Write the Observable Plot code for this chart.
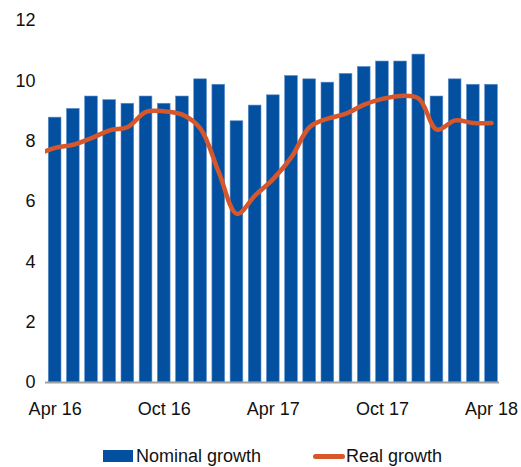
<!DOCTYPE html>
<html>
<head>
<meta charset="utf-8">
<script src="https://cdn.jsdelivr.net/npm/d3@7"></script>
<script src="https://cdn.jsdelivr.net/npm/@observablehq/plot@0.6"></script>
<style>
  html, body { margin: 0; padding: 0; background: #fff; }
  #wrap { position: relative; width: 521px; height: 467px; font-family: "Liberation Sans", Arial, sans-serif; color: #111; }
  #legend { position: absolute; left: 0; top: 430px; width: 521px; height: 37px; font-size: 18px; }
  .sw { position: absolute; }
  .lt { position: absolute; line-height: 20px; white-space: nowrap; }
</style>
</head>
<body>
<div id="wrap">
  <div id="chart"></div>
  <div id="legend">
    <div class="sw" style="left:103px; top:20px; width:30px; height:12px; background:#0450a0;"></div>
    <div class="lt" style="left:136px; top:16px;">Nominal growth</div>
    <div class="sw" style="left:313px; top:23.5px; width:32px; height:5px; border-radius:2.5px; background:#d5572b;"></div>
    <div class="lt" style="left:346px; top:16px;">Real growth</div>
  </div>
</div>
<script>
const months = ["Apr 16","May 16","Jun 16","Jul 16","Aug 16","Sep 16","Oct 16","Nov 16","Dec 16",
  "Jan 17","Feb 17","Mar 17","Apr 17","May 17","Jun 17","Jul 17","Aug 17","Sep 17","Oct 17",
  "Nov 17","Dec 17","Jan 18","Feb 18","Mar 18","Apr 18"];
const nominalGrowth = [8.78, 9.07, 9.48, 9.36, 9.24, 9.48, 9.24, 9.48, 10.05, 9.87, 8.66, 9.18,
  9.52, 10.16, 10.05, 9.94, 10.23, 10.46, 10.64, 10.64, 10.87, 9.48, 10.05, 9.87, 9.87];
// real growth, Mar 16 (partly visible at left edge) through Apr 18
const realMonths = ["Mar 16"].concat(months);
const realGrowth = [7.55, 7.78, 7.88, 8.10, 8.36, 8.47, 8.97, 8.99, 8.88, 8.41, 6.97, 5.59, 6.20,
  6.75, 7.47, 8.47, 8.75, 8.91, 9.21, 9.40, 9.50, 9.41, 8.38, 8.69, 8.60, 8.60];
const xTickLabels = ["Apr 16", "Oct 16", "Apr 17", "Oct 17", "Apr 18"];
const yTicks = [0, 2, 4, 6, 8, 10, 12];

const nomData = months.map((m, i) => ({m, i, v: nominalGrowth[i]}));
const realData = realMonths.map((m, k) => ({m, i: k - 1, v: realGrowth[k]}));
const xTicks = xTickLabels.map(l => months.indexOf(l));

const chart = Plot.plot({
  width: 521,
  height: 430,
  marginLeft: 45,
  marginRight: 22,
  marginTop: 20,
  marginBottom: 48,
  style: {fontFamily: "'Liberation Sans', Arial, sans-serif", fontSize: "18px", color: "#111", background: "#fff"},
  x: {type: "linear", domain: [-0.53, 24.44], ticks: xTicks, tickFormat: i => months[i], tickSize: 0, tickPadding: 20, label: null},
  y: {domain: [0, 12], ticks: yTicks, tickSize: 0, tickPadding: 10, label: null},
  marks: [
    Plot.rect(nomData, {x1: d => d.i - 0.35, x2: d => d.i + 0.35, y1: 0, y2: "v", fill: "#0450a0", stroke: "#5f8fcc", strokeWidth: 0.6}),
    Plot.ruleY([0], {stroke: "#a0a0a0", strokeWidth: 2}),
    Plot.line(realData, {x: "i", y: "v", curve: "catmull-rom", stroke: "#d5572b", strokeWidth: 4.5, strokeLinecap: "round", clip: true})
  ]
});
document.getElementById("chart").appendChild(chart);
</script>
</body>
</html>
